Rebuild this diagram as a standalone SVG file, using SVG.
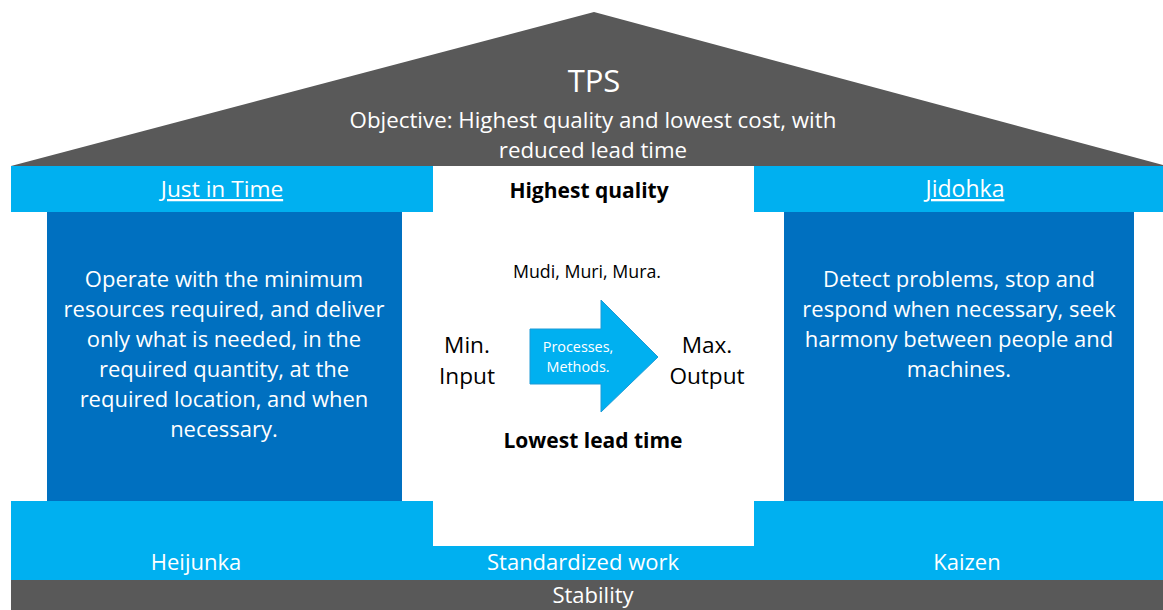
<svg xmlns="http://www.w3.org/2000/svg" width="1163" height="610" viewBox="0 0 1163 610">
  <style>
    text { font-family: "Open Sans", Lato, "Liberation Sans", sans-serif; text-anchor: middle; }
    .w { fill: #ffffff; }
    .k { fill: #000000; }
    .roof { fill: #595959; }
    .light { fill: #00B0F0; }
    .dark { fill: #0070C0; }
    .body { font-size: 22px; }
    .u { text-decoration: underline; }
    .b { font-weight: bold; }
  </style>

  <rect width="1163" height="610" fill="#ffffff"/>

  <!-- Roof -->
  <g id="roof">
    <polygon class="roof" points="594,12 1163,165 1163,166 11,166"/>
    <text class="w" x="594" y="92" font-size="31">TPS</text>
    <text class="w" x="593" y="128" font-size="22.3">Objective: Highest quality and lowest cost, with</text>
    <text class="w" x="593" y="158" font-size="22.3">reduced lead time</text>
  </g>

  <!-- Left pillar: Just in Time -->
  <g id="just-in-time">
    <rect class="light" x="11" y="166" width="422" height="46"/>
    <rect class="dark" x="47" y="212" width="355" height="289"/>
    <text class="w u" x="222" y="197" font-size="22.7">Just in Time</text>
    <text class="w body" x="224" y="287">Operate with the minimum</text>
    <text class="w body" x="224" y="317">resources required, and deliver</text>
    <text class="w body" x="224" y="347">only what is needed, in the</text>
    <text class="w body" x="224" y="377">required quantity, at the</text>
    <text class="w body" x="224" y="407">required location, and when</text>
    <text class="w body" x="224" y="437">necessary.</text>
  </g>

  <!-- Right pillar: Jidohka -->
  <g id="jidohka">
    <rect class="light" x="754" y="166" width="409" height="46"/>
    <rect class="dark" x="784" y="212" width="350" height="289"/>
    <text class="w u" x="965" y="197" font-size="23">Jidohka</text>
    <text class="w body" x="959" y="287">Detect problems, stop and</text>
    <text class="w body" x="959" y="317">respond when necessary, seek</text>
    <text class="w body" x="959" y="347">harmony between people and</text>
    <text class="w body" x="959" y="377">machines.</text>
  </g>

  <!-- Centre: process flow -->
  <g id="centre">
    <text class="k b" x="589" y="198" font-size="21">Highest quality</text>
    <text class="k" x="587" y="278" font-size="17.8">Mudi, Muri, Mura.</text>
    <text class="k" x="467" y="353" font-size="22.6">Min.</text>
    <text class="k" x="467" y="384" font-size="22.6">Input</text>
    <text class="k" x="707" y="353" font-size="22.6">Max.</text>
    <text class="k" x="707" y="384" font-size="22.6">Output</text>
    <text class="k b" x="593" y="448" font-size="21">Lowest lead time</text>
  </g>

  <g id="process-arrow">
    <polygon class="light" stroke="#1C9AD6" stroke-width="1" points="530,329 601,329 601,300 658,357 601,412 601,384 530,384"/>
    <text class="w" x="578" y="352" font-size="14.4">Processes,</text>
    <text class="w" x="578" y="372" font-size="14.4">Methods.</text>
  </g>

  <!-- Foundation -->
  <g id="foundation">
    <rect class="light" x="11" y="501" width="422" height="46"/>
    <rect class="light" x="754" y="501" width="409" height="46"/>
    <rect class="light" x="11" y="546" width="1152" height="34"/>
    <text class="w" x="196" y="570" font-size="22">Heijunka</text>
    <text class="w" x="583" y="570" font-size="22">Standardized work</text>
    <text class="w" x="967" y="570" font-size="22">Kaizen</text>
  </g>

  <g id="stability">
    <rect class="roof" x="11" y="580" width="1152" height="30"/>
    <text class="w" x="593" y="603" font-size="22">Stability</text>
  </g>

  <g id="connectors"/>
</svg>
